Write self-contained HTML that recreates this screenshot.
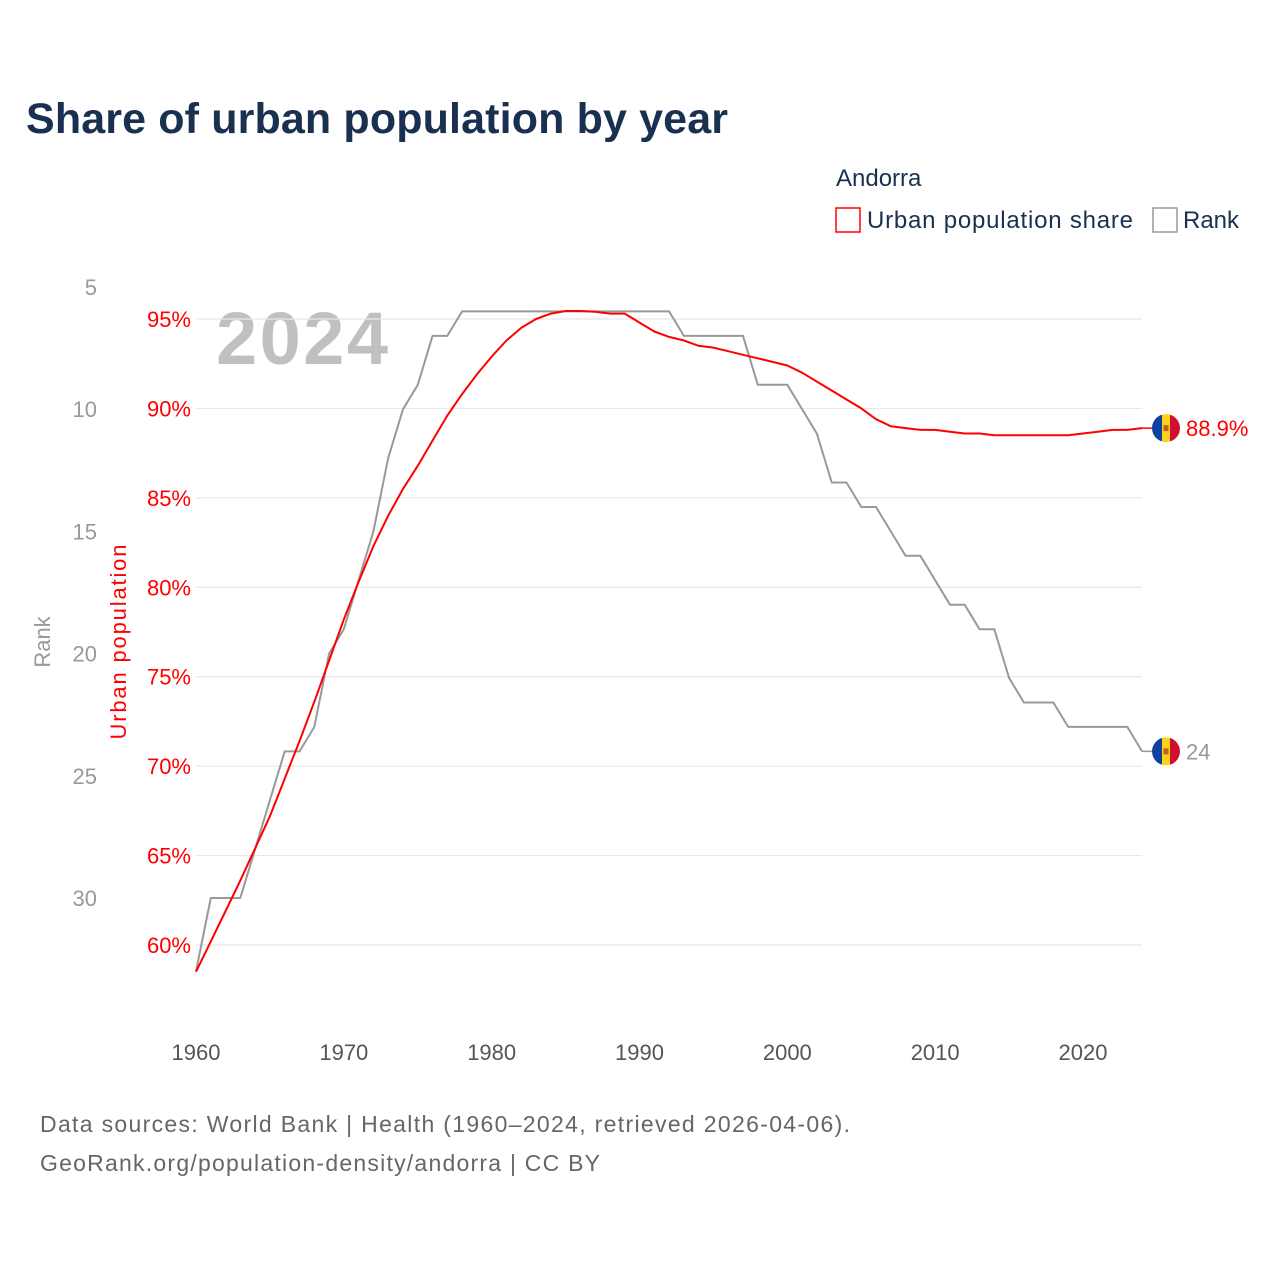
<!DOCTYPE html>
<html><head><meta charset="utf-8"><style>
html,body{margin:0;padding:0;background:#fff;}
svg{display:block;font-family:"Liberation Sans",sans-serif;}
</style></head><body>
<svg id="chart" width="1280" height="1280" viewBox="0 0 1280 1280" xmlns="http://www.w3.org/2000/svg">
<rect width="1280" height="1280" fill="#fff"/>
<text x="26" y="133" font-size="43" font-weight="bold" fill="#1a3050" textLength="702">Share of urban population by year</text>
<text x="836" y="186" font-size="24" fill="#1a3050">Andorra</text>
<g>
<rect x="836" y="208" width="24" height="24" fill="none" stroke="#f00" stroke-width="1.5"/>
<text x="867" y="228" font-size="24" fill="#1a3050" textLength="266">Urban population share</text>
</g>
<g>
<rect x="1153" y="208" width="24" height="24" fill="none" stroke="#999" stroke-width="1.5"/>
<text x="1183" y="228" font-size="24" fill="#1a3050">Rank</text>
</g>
<text x="216" y="364" font-size="74" font-weight="bold" fill="#c0c0c0" textLength="172">2024</text>
<text transform="translate(50,642) rotate(-90)" text-anchor="middle" font-size="22" fill="#999">Rank</text>
<text transform="translate(126,642) rotate(-90)" text-anchor="middle" font-size="22" fill="#f00" textLength="195">Urban population</text>
<g id="grid"></g><g id="ticks"></g><g id="lines"></g><g id="ends"></g>
<text x="40" y="1132" font-size="23" fill="#666" textLength="810">Data sources: World Bank | Health (1960–2024, retrieved 2026-04-06).</text>
<text x="40" y="1171" font-size="23" fill="#666" textLength="560">GeoRank.org/population-density/andorra | CC BY</text>
</svg>
<script>
const years = [];
for (let y = 1960; y <= 2024; y++) years.push(y);
const urbanShare = [58.5,60.2,61.9,63.6,65.4,67.2,69.3,71.4,73.6,75.9,78.2,80.3,82.3,84.0,85.5,86.8,88.2,89.6,90.8,91.9,92.9,93.8,94.5,95.0,95.3,95.45,95.45,95.4,95.3,95.3,94.8,94.3,94.0,93.8,93.5,93.4,93.2,93.0,92.8,92.6,92.4,92.0,91.5,91.0,90.5,90.0,89.4,89.0,88.9,88.8,88.8,88.7,88.6,88.6,88.5,88.5,88.5,88.5,88.5,88.5,88.6,88.7,88.8,88.8,88.9];
const rankValues = [33,30,30,30,28,26,24,24,23,20,19,17,15,12,10,9,7,7,6,6,6,6,6,6,6,6,6,6,6,6,6,6,6,7,7,7,7,7,9,9,9,10,11,13,13,14,14,15,16,16,17,18,18,19,19,21,22,22,22,23,23,23,23,23,24];
const urbanTicks = [60,65,70,75,80,85,90,95];
const rankTicks = [5,10,15,20,25,30];
const xTicks = [1960,1970,1980,1990,2000,2010,2020];

const X = y => 196 + (y - 1960) * (1083 - 196) / 60;
const YU = v => 945 - (v - 60) * (945 - 319) / 35;
const YR = r => 287 + (r - 5) * (898 - 287) / 25;
const NS = "http://www.w3.org/2000/svg";
function mk(tag, attrs, parent, txt) {
  const e = document.createElementNS(NS, tag);
  for (const k in attrs) e.setAttribute(k, attrs[k]);
  if (txt !== undefined) e.textContent = txt;
  parent.appendChild(e);
  return e;
}
const grid = document.getElementById('grid'), ticks = document.getElementById('ticks');
const lines = document.getElementById('lines'), ends = document.getElementById('ends');
urbanTicks.forEach(v => {
  const g = mk('line', {x1: 196, x2: 1142, y1: YU(v), y2: YU(v), stroke: '#e8e8e8', 'stroke-width': 1.2}, grid);
  
  
  const t = mk('text', {x: 191, y: YU(v) + 8, 'text-anchor': 'end', 'font-size': 22, fill: '#f00'}, ticks, v + '%');
  
  
});
rankTicks.forEach(r => {
  const t = mk('text', {x: 97, y: YR(r) + 8, 'text-anchor': 'end', 'font-size': 22, fill: '#999'}, ticks, r);
  
  
});
xTicks.forEach(y => {
  const t = mk('text', {x: X(y), y: 1060, 'text-anchor': 'middle', 'font-size': 22, fill: '#555'}, ticks, y);
  
  
});
const rp = years.map((y, i) => X(y).toFixed(1) + ',' + YR(rankValues[i]).toFixed(1)).join(' ');
const rl = mk('polyline', {points: rp, fill: 'none', stroke: '#999', 'stroke-width': 2, 'stroke-linejoin': 'round'}, lines);


const up = years.map((y, i) => X(y).toFixed(1) + ',' + YU(urbanShare[i]).toFixed(1)).join(' ');
const ul = mk('polyline', {points: up, fill: 'none', stroke: '#f00', 'stroke-width': 2, 'stroke-linejoin': 'round'}, lines);



function flag(cy, name) {
  const g = mk('g', {}, ends);
  
  
  const cx = 1166, r = 14;
  const id = 'clip' + Math.round(cy);
  const cp = mk('clipPath', {id: id}, g);
  mk('circle', {cx: cx, cy: cy, r: r}, cp);
  const f = mk('g', {'clip-path': 'url(#' + id + ')'}, g);
  mk('rect', {x: cx - r, y: cy - r, width: 10, height: 2 * r, fill: '#1040a0'}, f);
  mk('rect', {x: cx - 4, y: cy - r, width: 8, height: 2 * r, fill: '#fcd116'}, f);
  mk('rect', {x: cx + 4, y: cy - r, width: 10, height: 2 * r, fill: '#d01030'}, f);
  mk('rect', {x: cx - 2.5, y: cy - 3, width: 5, height: 6, fill: '#c06020'}, f);
}
const last = years.length - 1;
const uy = YU(urbanShare[last]), ry = YR(rankValues[last]);
mk('line', {x1: X(2024), x2: 1152, y1: uy, y2: uy, stroke: '#f00', 'stroke-width': 1.5}, ends);
mk('line', {x1: X(2024), x2: 1152, y1: ry, y2: ry, stroke: '#999', 'stroke-width': 1.5}, ends);
flag(uy, 'urban-end-flag');
flag(ry, 'rank-end-flag');
const ut = mk('text', {x: 1186, y: uy + 8, 'font-size': 22, fill: '#f00'}, ends, urbanShare[last].toFixed(1) + '%');


const rt = mk('text', {x: 1186, y: ry + 8, 'font-size': 22, fill: '#999'}, ends, rankValues[last]);


</script>
</body></html>
